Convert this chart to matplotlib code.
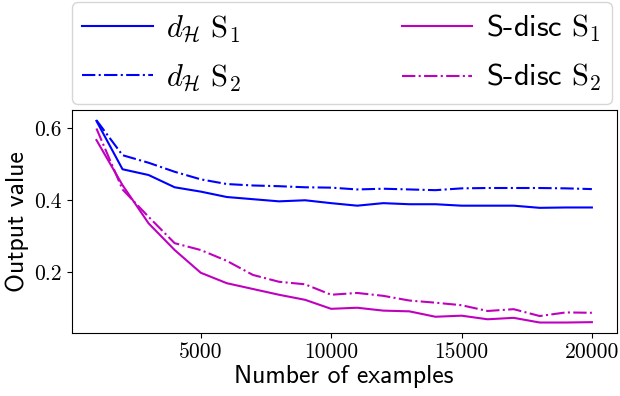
import matplotlib
matplotlib.use("Agg")
import matplotlib.pyplot as plt
from matplotlib.ticker import FixedLocator

n_examples = [1000, 2000, 3000, 4000, 5000, 6000, 7000, 8000, 9000, 10000,
              11000, 12000, 13000, 14000, 15000, 16000, 17000, 18000, 19000, 20000]
dh_s1 = [0.619, 0.485, 0.469, 0.435, 0.423, 0.408, 0.402, 0.396, 0.399, 0.391,
         0.384, 0.391, 0.388, 0.388, 0.384, 0.384, 0.384, 0.378, 0.379, 0.379]
dh_s2 = [0.621, 0.524, 0.503, 0.478, 0.457, 0.444, 0.440, 0.438, 0.435, 0.434,
         0.429, 0.431, 0.429, 0.427, 0.432, 0.433, 0.433, 0.433, 0.432, 0.430]
sd_s1 = [0.566, 0.441, 0.335, 0.261, 0.198, 0.169, 0.153, 0.137, 0.123, 0.098,
         0.101, 0.093, 0.091, 0.076, 0.079, 0.069, 0.073, 0.060, 0.060, 0.061]
sd_s2 = [0.598, 0.429, 0.353, 0.280, 0.261, 0.231, 0.192, 0.173, 0.166, 0.137,
         0.142, 0.134, 0.121, 0.115, 0.108, 0.092, 0.097, 0.078, 0.088, 0.087]
labels = [r"$d_{\mathcal{H}}\ \mathrm{S}_1$", r"$d_{\mathcal{H}}\ \mathrm{S}_2$",
          r"S-disc $\mathrm{S}_1$", r"S-disc $\mathrm{S}_2$"]
xticks = [5000, 10000, 15000, 20000]
yticks = [0.2, 0.4, 0.6]

plt.rcParams['mathtext.fontset'] = 'cm'
plt.rcParams['axes.formatter.use_mathtext'] = True

fig = plt.figure(figsize=(6.2, 3.96), dpi=100)
ax = fig.add_axes([0.1156, 0.16, 0.879, 0.562])

l1, = ax.plot(n_examples, dh_s1, color='b', lw=1.5, ls='-')
l2, = ax.plot(n_examples, dh_s2, color='b', lw=1.5, ls='-.')
l3, = ax.plot(n_examples, sd_s1, color='m', lw=1.5, ls='-')
l4, = ax.plot(n_examples, sd_s2, color='m', lw=1.5, ls='-.')

ax.xaxis.set_major_locator(FixedLocator(xticks))
ax.yaxis.set_major_locator(FixedLocator(yticks))
ax.set_xticklabels([str(v) for v in xticks], family='cmr10', fontsize=15.5)
ax.set_yticklabels([f"{v:.1f}" for v in yticks], family='cmr10', fontsize=15.5)
ax.set_xlabel("Number of examples", family='cmss10', fontsize=18.5, labelpad=2)
ax.set_ylabel("Output value", family='cmss10', fontsize=18.5, labelpad=4)

leg = fig.legend([l1, l2, l3, l4], labels, ncol=2, loc='upper left',
                 bbox_to_anchor=(0.1156, 0.745, 0.872, 0.25), mode='expand',
                 prop={'family': 'cmss10', 'size': 22}, handlelength=2.3,
                 handletextpad=0.45, borderaxespad=0.0, frameon=True,
                 labelspacing=0.6, borderpad=0.35)

fig.savefig("out.png", dpi=100)
